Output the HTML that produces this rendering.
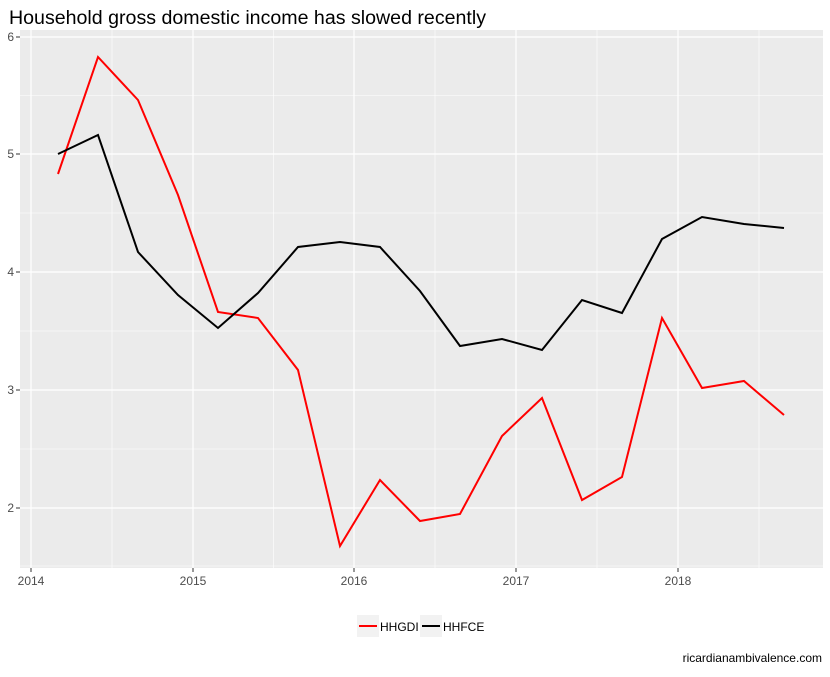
<!DOCTYPE html>
<html><head><style>body{margin:0;background:#fff;font-family:"Liberation Sans",sans-serif}</style></head><body>
<svg width="830" height="672" xmlns="http://www.w3.org/2000/svg" font-family="Liberation Sans, sans-serif">
<text x="9" y="24" font-size="19.6" fill="#000">Household gross domestic income has slowed recently</text>
<rect x="20" y="30" width="803" height="538" fill="#ebebeb"/>
<g stroke="#fff" stroke-width="0.6">
<line x1="20" x2="823" y1="95.5" y2="95.5"/><line x1="20" x2="823" y1="213" y2="213"/><line x1="20" x2="823" y1="331" y2="331"/><line x1="20" x2="823" y1="449" y2="449"/><line x1="20" x2="823" y1="566" y2="566"/>
<line y1="30" y2="568" x1="112" x2="112"/><line y1="30" y2="568" x1="273.5" x2="273.5"/><line y1="30" y2="568" x1="435" x2="435"/><line y1="30" y2="568" x1="597" x2="597"/><line y1="30" y2="568" x1="759" x2="759"/>
</g>
<g stroke="#fff" stroke-width="1.2">
<line x1="20" x2="823" y1="37" y2="37"/><line x1="20" x2="823" y1="154" y2="154"/><line x1="20" x2="823" y1="272" y2="272"/><line x1="20" x2="823" y1="390" y2="390"/><line x1="20" x2="823" y1="508" y2="508"/>
<line y1="30" y2="568" x1="31" x2="31"/><line y1="30" y2="568" x1="193" x2="193"/><line y1="30" y2="568" x1="354" x2="354"/><line y1="30" y2="568" x1="516" x2="516"/><line y1="30" y2="568" x1="678" x2="678"/>
</g>
<g stroke="#333" stroke-width="1">
<line x1="16" x2="20" y1="37" y2="37"/><line x1="16" x2="20" y1="154" y2="154"/><line x1="16" x2="20" y1="272" y2="272"/><line x1="16" x2="20" y1="390" y2="390"/><line x1="16" x2="20" y1="508" y2="508"/>
<line y1="568" y2="572" x1="31" x2="31"/><line y1="568" y2="572" x1="193" x2="193"/><line y1="568" y2="572" x1="354" x2="354"/><line y1="568" y2="572" x1="516" x2="516"/><line y1="568" y2="572" x1="678" x2="678"/>
</g>
<g font-size="12" fill="#4d4d4d" text-anchor="end">
<text x="14" y="41">6</text><text x="14" y="158">5</text><text x="14" y="276">4</text><text x="14" y="394">3</text><text x="14" y="512">2</text>
</g>
<g font-size="12" fill="#4d4d4d" text-anchor="middle">
<text x="31" y="585">2014</text><text x="193" y="585">2015</text><text x="354" y="585">2016</text><text x="516" y="585">2017</text><text x="678" y="585">2018</text>
</g>
<polyline fill="none" stroke="#f00" stroke-width="2" points="58,174 98,57 138,100 178,195 218,312 258,318 298,370 340,546 380,480 420,521 460,514 502,436 542,398 582,500 622,477 662,318 702,388 744,381 784,415"/>
<polyline fill="none" stroke="#000" stroke-width="2" points="58,154 98,135 138,252 178,295 218,328 258,293 298,247 340,242 380,247 420,291 460,346 502,339 542,350 582,300 622,313 662,239 702,217 744,224 784,228"/>
<rect x="357" y="615" width="22" height="22" fill="#f2f2f2"/>
<line x1="359" x2="377" y1="626" y2="626" stroke="#f00" stroke-width="2"/>
<text x="380" y="631" font-size="12" fill="#000">HHGDI</text>
<rect x="420" y="615" width="22" height="22" fill="#f2f2f2"/>
<line x1="422" x2="440" y1="626" y2="626" stroke="#000" stroke-width="2"/>
<text x="443" y="631" font-size="12" fill="#000">HHFCE</text>
<text x="822" y="662" font-size="12" fill="#000" text-anchor="end">ricardianambivalence.com</text>
</svg>
</body></html>
